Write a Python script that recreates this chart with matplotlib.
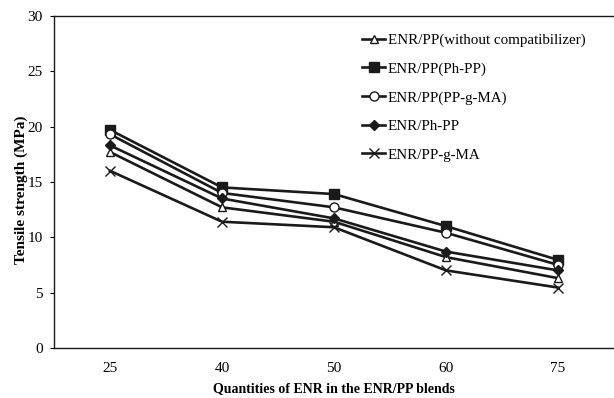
import matplotlib
matplotlib.use("Agg")
import matplotlib.pyplot as plt

categories = ["25", "40", "50", "60", "75"]
without_comp = [17.7, 12.7, 11.4, 8.2, 6.3]
ph_pp = [19.7, 14.5, 13.9, 11.0, 7.95]
pp_g_ma = [19.3, 14.0, 12.7, 10.4, 7.5]
enr_ph_pp = [18.3, 13.5, 11.7, 8.7, 7.0]
enr_pp_g_ma = [16.0, 11.4, 10.9, 7.0, 5.45]

labels = ["ENR/PP(without compatibilizer)", "ENR/PP(Ph-PP)", "ENR/PP(PP-g-MA)",
          "ENR/Ph-PP", "ENR/PP-g-MA"]
series = [without_comp, ph_pp, pp_g_ma, enr_ph_pp, enr_pp_g_ma]
markers = ["^", "s", "o", "D", "x"]
faces = ["white", "#1a1a1a", "white", "#1a1a1a", "none"]
sizes = [6, 6.5, 6.5, 5, 7]

plt.rcParams["font.family"] = ["Liberation Serif", "DejaVu Serif"]

fig = plt.figure(figsize=(6.14, 3.98), dpi=100)
ax = fig.add_axes([0.088, 0.126, 0.912, 0.834])

x = list(range(len(categories)))
for ys, lab, m, fc, ms in zip(series, labels, markers, faces, sizes):
    ax.plot(x, ys, color="#1a1a1a", lw=1.9, marker=m, markersize=ms,
            markerfacecolor=fc, markeredgecolor="#1a1a1a", markeredgewidth=1.0,
            label=lab)

ax.set_xlim(-0.5, 4.5)
ax.set_ylim(0, 30)
ax.set_yticks([0, 5, 10, 15, 20, 25, 30])
ax.set_xticks(x)
ax.set_xticklabels(categories)
ax.tick_params(axis="x", length=0, pad=10, labelsize=11)
ax.tick_params(axis="y", length=3, pad=5, labelsize=11)
ax.spines["right"].set_visible(False)
for s in ["left", "top", "bottom"]:
    ax.spines[s].set_linewidth(1.0)
    ax.spines[s].set_color("#1a1a1a")

ax.set_ylabel("Tensile strength (MPa)", fontweight="bold", fontsize=11)
ax.yaxis.set_label_coords(-0.047, 0.476)
ax.set_xlabel("Quantities of ENR in the ENR/PP blends", fontweight="bold", fontsize=10,
              labelpad=5)

ax.legend(loc="upper left", bbox_to_anchor=(0.54, 0.965), frameon=False, fontsize=10.8,
          handlelength=1.5, handletextpad=0.2, labelspacing=1.0, borderaxespad=0)

fig.savefig("out.png", dpi=100)
